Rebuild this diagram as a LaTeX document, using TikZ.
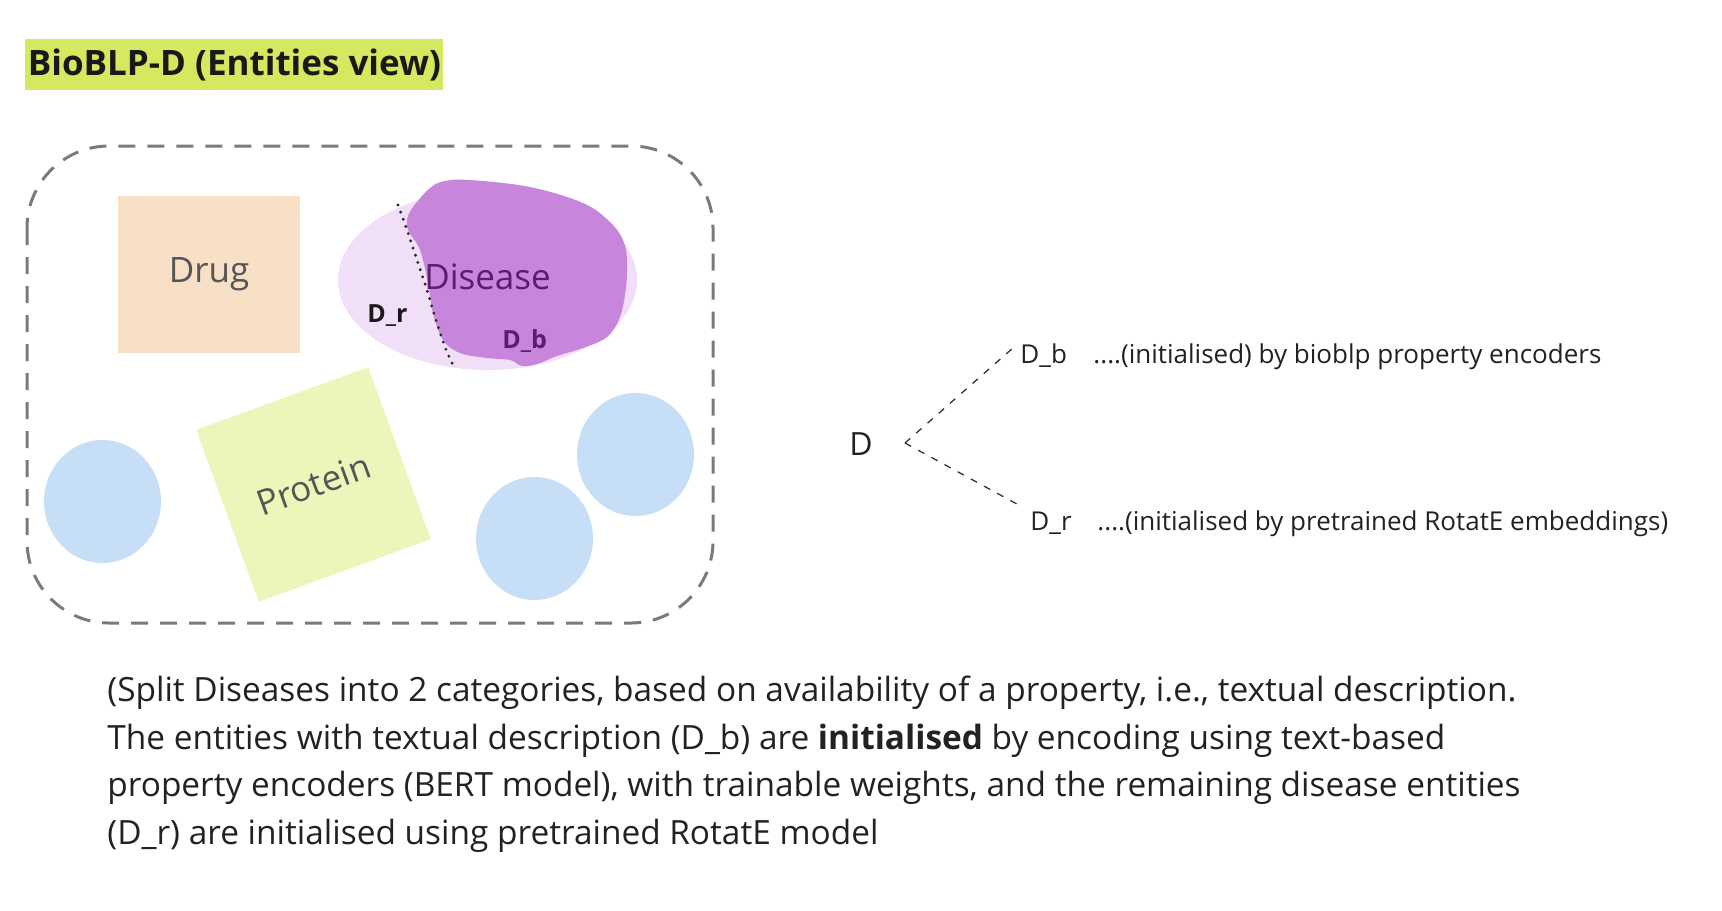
\documentclass[tikz,border=0pt]{standalone}
\usepackage{fontspec}
\setmainfont{Open Sans}
\usetikzlibrary{calc}
\definecolor{titlebg}{HTML}{D5E85F}
\definecolor{drugfill}{HTML}{F8E0C6}
\definecolor{dislight}{HTML}{F0DFF6}
\definecolor{disblob}{HTML}{C785DC}
\definecolor{distext}{HTML}{5C1D6E}
\definecolor{protfill}{HTML}{EDF5BA}
\definecolor{bluefill}{HTML}{C6DFF6}
\definecolor{bordergray}{HTML}{7A7A7A}
\definecolor{labelgray}{HTML}{555555}
\definecolor{bodytext}{HTML}{222222}
\begin{document}
\begin{tikzpicture}[x=0.5pt,y=-0.5pt,
  bigtext/.style={font=\fontsize{17.5}{21}\selectfont, text=labelgray},
  smallbold/.style={font=\bfseries\fontsize{12.5}{15}\selectfont, inner sep=0pt, anchor=base west},
  sidelabel/.style={font=\fontsize{13.0}{16}\selectfont, text=bodytext, inner sep=0pt, anchor=base west},
  bodyline/.style={font=\fontsize{16.7}{20}\selectfont, text=bodytext, inner sep=0pt, anchor=base west},
  entitybox/.style={draw=bordergray, line width=1.5pt, dash pattern=on 8.5pt off 6pt, rounded corners=41pt},
  branch/.style={draw=black!80, line width=0.65pt, dash pattern=on 3.5pt off 4pt},
  splitline/.style={draw=black!85, line width=1.6pt, line cap=round, dash pattern=on 0pt off 3.8pt}
]
\path[use as bounding box] (0,0) rectangle (1722,910);

% title
\node[fill=titlebg, font=\bfseries\fontsize{17.5}{21}\selectfont, text=black!90,
      minimum width=209pt, minimum height=25.5pt, inner sep=0pt, anchor=north west]
  (title) at (25,39) {BioBLP-D (Entities view)};

% entities container
\draw[entitybox] (27,146) rectangle (713,623);

% Drug
\node[fill=drugfill, minimum width=91pt, minimum height=78.5pt, inner sep=0pt, bigtext]
  (drug) at (209,274.5) {Drug};

% Disease
\fill[dislight] (487.5,280) ellipse [x radius=149.5, y radius=90];
\fill[disblob] plot[smooth cycle, tension=0.6] coordinates {
  (413,207) (430,188) (445,181) (470,180) (530,187) (583,203) (610,222)
  (623,240) (627,260) (626,287) (620,317) (607,337) (583,348) (557,356)
  (537,364) (522,366) (510,360) (487,358) (460,353) (443,340) (433,313)
  (428,283) (420,250) (409,232) (407,220)};
\draw[splitline] plot[smooth, tension=0.6] coordinates {
  (398,205) (407,230) (418,263) (427,290) (435,317) (445,347) (453,365)};
\node[bigtext, text=distext, inner sep=0pt] (disease) at (487.5,277) {Disease};
\node[smallbold, text=black!90] (dr) at (367,322) {D\_r};
\node[smallbold, text=distext] (db) at (502,348) {D\_b};

% Protein
\node[fill=protfill, minimum width=91.5pt, minimum height=91.5pt, inner sep=0pt,
      rotate=20, bigtext] (protein) at (313.5,484.5) {Protein};

% blue circles
\fill[bluefill] (102.5,501.5) ellipse [x radius=58.5, y radius=61.5];
\fill[bluefill] (534.5,538.5) ellipse [x radius=58.5, y radius=61.5];
\fill[bluefill] (635.5,454.5) ellipse [x radius=58.5, y radius=61.5];

% right side split
\node[font=\fontsize{16}{20}\selectfont, text=bodytext, inner sep=0pt, anchor=base west]
  (D) at (849,455) {D};
\coordinate (v) at (905,443);
\node[sidelabel] (Db) at (1020,363) {D\_b};
\node[sidelabel] (Dr) at (1030,530) {D\_r};
\node[sidelabel] (Dbtxt) at (1093,363) {....(initialised) by bioblp property encoders};
\node[sidelabel] (Drtxt) at (1097,530) {....(initialised by pretrained RotatE embeddings)};
\draw[branch] (v) -- ($(Db.west)+(-5,-9)$);
\draw[branch] (v) -- ($(Dr.west)+(-10,-17)$);

% explanation
\node[bodyline] (p1) at (107,701.5) {(Split Diseases into 2 categories, based on availability of a property, i.e., textual description.};
\node[bodyline] (p2) at (107,749) {The entities with textual description (D\_b) are \textbf{initialised} by encoding using text-based};
\node[bodyline] (p3) at (107,796.5) {property encoders (BERT model), with trainable weights, and the remaining disease entities};
\node[bodyline] (p4) at (107,844.5) {(D\_r) are initialised using pretrained RotatE model};
\end{tikzpicture}
\end{document}
